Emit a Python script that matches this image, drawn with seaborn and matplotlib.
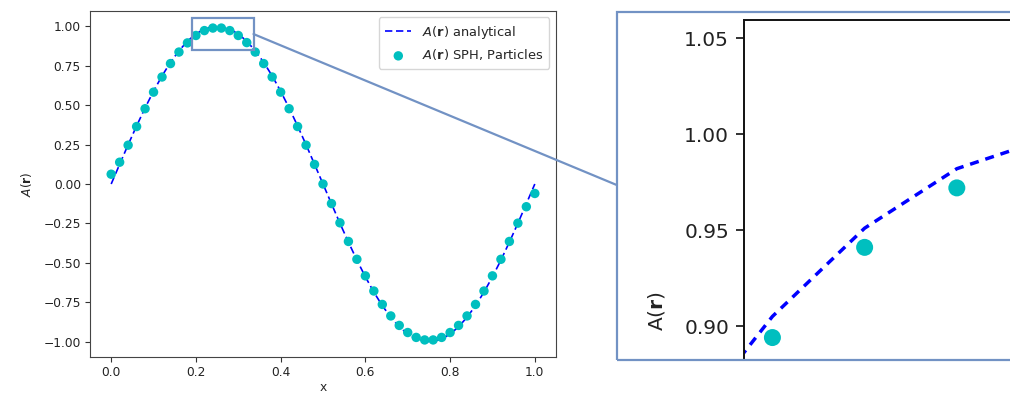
import matplotlib
matplotlib.use("Agg")
import matplotlib.pyplot as plt
import seaborn as sns
from matplotlib.patches import Rectangle, ConnectionPatch

# ---- data ----
x_pos = [0.00, 0.02, 0.04, 0.06, 0.08, 0.10, 0.12, 0.14, 0.16, 0.18,
         0.20, 0.22, 0.24, 0.26, 0.28, 0.30, 0.32, 0.34, 0.36, 0.38,
         0.40, 0.42, 0.44, 0.46, 0.48, 0.50, 0.52, 0.54, 0.56, 0.58,
         0.60, 0.62, 0.64, 0.66, 0.68, 0.70, 0.72, 0.74, 0.76, 0.78,
         0.80, 0.82, 0.84, 0.86, 0.88, 0.90, 0.92, 0.94, 0.96, 0.98, 1.00]

a_analytical = [0.000, 0.125, 0.249, 0.368, 0.482, 0.588, 0.685, 0.771, 0.844, 0.905,
                0.951, 0.982, 0.998, 0.998, 0.982, 0.951, 0.905, 0.844, 0.771, 0.685,
                0.588, 0.482, 0.368, 0.249, 0.125, 0.000, -0.125, -0.249, -0.368, -0.482,
                -0.588, -0.685, -0.771, -0.844, -0.905, -0.951, -0.982, -0.998, -0.998, -0.982,
                -0.951, -0.905, -0.844, -0.771, -0.685, -0.588, -0.482, -0.368, -0.249, -0.125, 0.000]

a_sph = [0.062, 0.138, 0.246, 0.364, 0.477, 0.582, 0.678, 0.763, 0.836, 0.894,
         0.941, 0.972, 0.988, 0.988, 0.972, 0.941, 0.896, 0.836, 0.763, 0.678,
         0.582, 0.477, 0.364, 0.246, 0.124, 0.000, -0.124, -0.246, -0.364, -0.477,
         -0.582, -0.678, -0.763, -0.836, -0.896, -0.941, -0.972, -0.988, -0.988, -0.972,
         -0.941, -0.896, -0.836, -0.763, -0.678, -0.582, -0.477, -0.364, -0.248, -0.144, -0.060]

main_yticks = [-1.00, -0.75, -0.50, -0.25, 0.00, 0.25, 0.50, 0.75, 1.00]
main_xticks = [0.0, 0.2, 0.4, 0.6, 0.8, 1.0]
inset_yticks = [0.90, 0.95, 1.00, 1.05]

label_line = r"$A(\mathbf{r})$ analytical"
label_dots = r"$A(\mathbf{r})$ SPH, Particles"

# ---- styling ----
sns.set_style("ticks")
plt.rcParams["font.family"] = ["DejaVu Sans"]
plt.rcParams["mathtext.fontset"] = "dejavusans"
plt.rcParams["lines.scale_dashes"] = True

W, H = 1010, 394
fig = plt.figure(figsize=(W / 100, H / 100), dpi=100)

def fx(px):
    return px / W

def fy(py):
    return 1 - py / H

frame_color = "#7292c4"
fs_main = 8.8
fs_leg = 9.4
fs_in = 14.5

# main axes
ax = fig.add_axes([fx(90), fy(357.3), fx(556) - fx(90), fy(10.7) - fy(357.3)])
sns.lineplot(x=x_pos, y=a_analytical, ax=ax, color="b", linewidth=1.2,
             label=label_line, sort=False)
ax.lines[0].set_dashes([4.4, 2.2])
sns.scatterplot(x=x_pos, y=a_sph, ax=ax, color="c", s=46, edgecolor="none",
                label=label_dots, zorder=3)
ax.set_xticks(main_xticks)
ax.set_yticks(main_yticks)
ax.set_xticklabels([f"{v:.1f}" for v in main_xticks])
ax.set_yticklabels([f"{v:.2f}".replace("-", "\u2212") for v in main_yticks])
ax.tick_params(labelsize=fs_main, length=3.5, width=0.8, pad=3.0,
               color="#333333", labelcolor="#222222")
ax.set_xlim(-0.05, 1.05)
ax.set_ylim(-1.098, 1.098)
ax.set_xlabel("x", fontsize=fs_main, labelpad=1.0)
ax.set_ylabel(r"$A(\mathbf{r})$", fontsize=fs_main, labelpad=7.0)
for sp in ax.spines.values():
    sp.set_color("#444444")
    sp.set_linewidth(0.8)
leg = ax.legend(loc="upper right", fontsize=fs_leg, frameon=True, fancybox=True,
                borderpad=0.5, handlelength=2.0, markerscale=1.0)
leg.get_frame().set_edgecolor("#cccccc")
leg.get_lines()[0].set_dashes([4.4, 2.2])

# zoom rectangle on main axes
ax.add_patch(Rectangle((0.190, 0.851), 0.146, 0.200, fill=False,
                       edgecolor=frame_color, linewidth=1.6, zorder=5))

# inset axes (extends past the figure's right edge)
ax_in = fig.add_axes([fx(744.3), fy(360), fx(1260) - fx(744.3), fy(20) - fy(360)])
sns.lineplot(x=x_pos, y=a_analytical, ax=ax_in, color="b", linewidth=2.5,
             sort=False, legend=False)
ax_in.lines[0].set_dashes([2.6, 2.0])
sns.scatterplot(x=x_pos, y=a_sph, ax=ax_in, color="c", s=150, edgecolor="none",
                legend=False, zorder=3)
ax_in.set_xlim(0.1739, 0.1739 + (1260 - 744.3) / 4610)
ax_in.set_ylim(0.8823, 1.0595)
ax_in.set_yticks(inset_yticks)
ax_in.set_yticklabels([f"{v:.2f}" for v in inset_yticks])
ax_in.set_xticks([])
ax_in.tick_params(axis="y", labelsize=fs_in, length=5.5, width=1.3, pad=5.5,
                  color="#222222", labelcolor="#222222")
ax_in.spines["bottom"].set_visible(False)
ax_in.spines["right"].set_visible(False)
for side in ("left", "top"):
    ax_in.spines[side].set_linewidth(1.4)
    ax_in.spines[side].set_color("#111111")
ax_in.set_ylabel(r"$\mathrm{A}(\mathbf{r})$", fontsize=fs_in, color="#222222")
ax_in.yaxis.set_label_coords(fx(667), fy(311.5), transform=fig.transFigure)
ax_in.set_xlabel("")

# frame around the inset
fig.add_artist(Rectangle((fx(616.7), fy(360)), fx(1200) - fx(616.7), fy(11.7) - fy(360),
                         transform=fig.transFigure, fill=False, edgecolor=frame_color,
                         linewidth=1.6, zorder=10))

# connector line from the zoom rectangle to the frame
con = ConnectionPatch(xyA=(0.336, 0.950), coordsA=ax.transData,
                      xyB=(fx(616.7), fy(185)), coordsB=fig.transFigure,
                      color=frame_color, linewidth=1.6, zorder=10)
fig.add_artist(con)

fig.savefig("out.png", dpi=100)
